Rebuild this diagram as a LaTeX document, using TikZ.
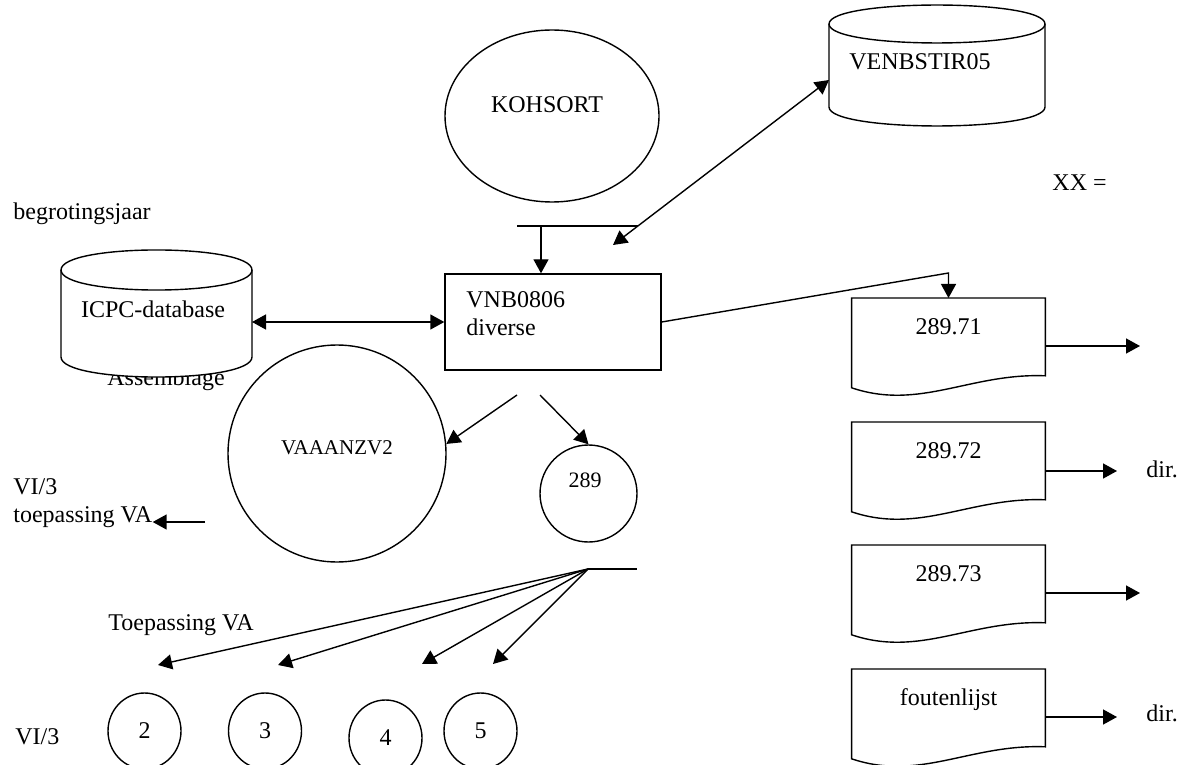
\documentclass[tikz,border=0pt]{standalone}
\usepackage{fontspec}
\setmainfont{Liberation Serif}
\usetikzlibrary{arrows.meta,shapes.geometric}

\tikzset{
	line/.style={line width=0.7pt},
	flow/.style={line, -{Triangle[length=7pt,width=7.5pt]}},
	twoway/.style={line, {Triangle[length=7pt,width=7.5pt]}-{Triangle[length=7pt,width=7.5pt]}},
	proc/.style={draw, line, minimum width=108pt, minimum height=48pt, inner sep=0pt},
	docbox/.style={inner sep=0pt, minimum width=96.5pt, text height=18pt, text depth=20.5pt, anchor=north},
	oval/.style={draw, line, ellipse, inner sep=0pt},
	txt/.style={inner sep=0pt},
}

% wavy bottom of a document symbol, drawn round a docbox node
\newcommand{\docshape}[1]{%
	\draw[line] (#1.north west) -- (#1.north east) -- (#1.south east)
		.. controls +(-75,-3) and +(68,23) .. ([yshift=-6pt]#1.south west) -- cycle;}

\begin{document}
\begin{tikzpicture}[x=0.5pt, y=-0.5pt, font=\fontsize{12}{14}\selectfont]
	\useasboundingbox (0,0) rectangle (1186,764);

	% top row
	\node (kohsort) [oval, minimum width=107pt, minimum height=86pt] at (552,116) {};
	\node (kohsortT) [txt] at (547,105) {KOHSORT};

	\draw[line, fill=white] (829,24) -- (829,107) .. controls (829,132.3) and (1045,132.3) .. (1045,107) -- (1045,24) .. controls (1045,-1.3) and (829,-1.3) .. (829,24) -- cycle;
	\draw[line] (829,24) .. controls (829,49.3) and (1045,49.3) .. (1045,24);
	\node (venb) [txt] at (920,62) {VENBSTIR05};

	\node (xx) [txt, anchor=west] at (1052,183) {XX =};
	\node (begr) [txt, anchor=west] at (13,214) {begrotingsjaar};

	% ICPC database
	\node (assembl) [txt, anchor=base] at (166,385) {Assemblage};
	\draw[line, fill=white] (61,270) -- (61,357) .. controls (61,383.7) and (252,383.7) .. (252,357) -- (252,270) .. controls (252,243.3) and (61,243.3) .. (61,270) -- cycle;
	\draw[line] (61,270) .. controls (61,296.7) and (252,296.7) .. (252,270);
	\node (icpc) [txt] at (153,309) {ICPC-database};
	\coordinate (icpcE) at (252,322);

	% program
	\node (vnb) [proc] at (553,322) {};
	\node (vnbT) [txt, anchor=west, align=left] at (466,313.5) {VNB0806\\diverse};

	\coordinate (barL) at (517,226);
	\coordinate (barR) at (638,226);
	\coordinate (barIn) at (541,226);
	\draw[line] (barL) -- (barR);
	\draw[flow] (barIn) -- (barIn |- vnb.north);

	\coordinate (venbW) at (829,80);
	\coordinate (venbIn) at (613,245);
	\draw[twoway] (venbIn) -- (venbW);
	\draw[twoway] (icpcE) -- (vnb.west);

	% output lists
	\node (doc1) [docbox] at (948.5,298) {289.71};
	\node (doc2) [docbox] at (948.5,422) {289.72};
	\node (doc3) [docbox] at (948.5,545) {289.73};
	\node (doc4) [docbox] at (948.5,669) {foutenlijst};
	\docshape{doc1}
	\docshape{doc2}
	\docshape{doc3}
	\docshape{doc4}

	\coordinate (docIn) at (948.5,273);
	\draw[flow] (vnb.east) -- (docIn) -- (doc1.north);

	\coordinate (out1) at (1140,346);
	\coordinate (out2) at (1117,471);
	\coordinate (out3) at (1140,593);
	\coordinate (out4) at (1117,717);
	\draw[flow] (doc1.east |- out1) -- (out1);
	\draw[flow] (doc2.east |- out2) -- (out2);
	\draw[flow] (doc3.east |- out3) -- (out3);
	\draw[flow] (doc4.east |- out4) -- (out4);
	\node (dir2) [txt, anchor=west] at (1146,469) {dir.};
	\node (dir4) [txt, anchor=west] at (1146,713) {dir.};

	% lower part
	\node (vaaanzv) [oval, minimum width=109pt, minimum height=108.5pt] at (337,453.5) {};
	\node (vaaanzvT) [txt, font=\fontsize{10.5}{12}\selectfont] at (337,448) {VAAANZV2};
	\node (c289) [oval, minimum size=48.5pt] at (588.5,493.5) {};
	\node (c289T) [txt, font=\fontsize{11}{13}\selectfont] at (585,480) {289};

	\coordinate (split1) at (517,395);
	\coordinate (split2) at (540,395);
	\draw[flow] (split1) -- (vaaanzv.5);
	\draw[flow] (split2) -- (c289.north);

	\node (vi) [txt, anchor=west, align=left] at (13,503.5) {VI/3\\toepassing VA};
	\coordinate (viIn) at (205,522);
	\draw[flow] (viIn) -- (vi.east |- viIn);

	\coordinate (fan) at (588,569);
	\coordinate (fanR) at (637,569);
	\draw[line] (fan) -- (fanR);
	\coordinate (to2) at (158,665);
	\coordinate (to3) at (278,665);
	\coordinate (to4) at (422,664);
	\coordinate (to5) at (493,664);
	\draw[flow] (fan) -- (to2);
	\draw[flow] (fan) -- (to3);
	\draw[flow] (fan) -- (to4);
	\draw[flow] (fan) -- (to5);

	\node (toep) [txt, anchor=west] at (108,625) {Toepassing VA};
	\node (vi3) [txt, anchor=west] at (15,737) {VI/3};

	\node (c2) [oval, minimum width=36.5pt, minimum height=38pt] at (144.5,731) {2};
	\node (c3) [oval, minimum width=36.5pt, minimum height=38pt] at (265,731) {3};
	\node (c4) [oval, minimum width=36.5pt, minimum height=38pt] at (385.5,738) {4};
	\node (c5) [oval, minimum width=36.5pt, minimum height=38pt] at (480.5,731) {5};
\end{tikzpicture}
\end{document}
